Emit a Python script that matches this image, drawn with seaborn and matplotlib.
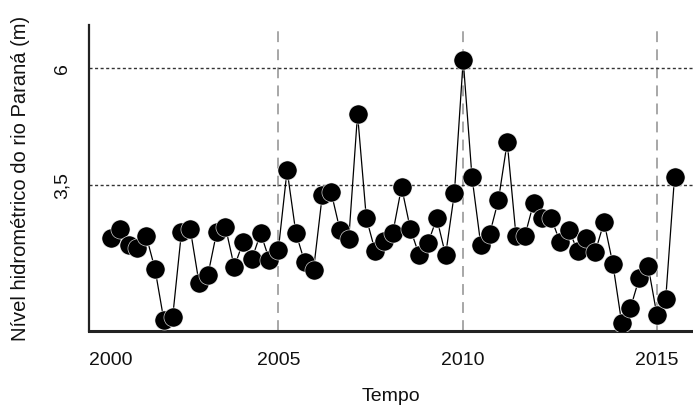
import matplotlib
matplotlib.use("Agg")
import matplotlib.pyplot as plt
import seaborn as sns
import numpy as np
import pandas as pd

# Quarterly river level readings (m)
nivel = [2.37, 2.56, 2.22, 2.15, 2.41, 1.70, 0.61, 0.67, 2.49, 2.56,
         1.40, 1.57, 2.49, 2.60, 1.75, 2.28, 1.92, 2.47, 1.89, 2.11,
         3.82, 2.47, 1.85, 1.68, 3.29, 3.35, 2.54, 2.34, 5.02, 2.79,
         2.09, 2.30, 2.47, 3.46, 2.56, 2.00, 2.26, 2.79, 2.00, 3.33,
         6.18, 3.67, 2.22, 2.45, 3.18, 4.42, 2.41, 2.41, 3.12, 2.79,
         2.79, 2.28, 2.54, 2.09, 2.37, 2.07, 2.71, 1.81, 0.55, 0.87,
         1.51, 1.77, 0.72, 1.06, 3.67]
periodo = list(range(len(nivel)))

# x ticks (position in quarter index) and their year labels
tick_pos = [0, 19, 40, 62]
tick_labels = ["2000", "2005", "2010", "2015"]
vline_pos = [19, 40, 62]

# y ticks / reference levels
y_ticks = [3.5, 6]
y_tick_labels = ["3,5", "6"]

df = pd.DataFrame({"periodo": periodo, "nivel": nivel})

sns.set_style("white")
plt.rcParams["font.family"] = ["Liberation Sans", "DejaVu Sans"]
plt.rcParams["text.color"] = "#111111"
plt.rcParams["axes.labelcolor"] = "#111111"
plt.rcParams["xtick.color"] = "#111111"
plt.rcParams["ytick.color"] = "#111111"

fig = plt.figure(figsize=(6.93, 4.05), dpi=100)
ax = fig.add_axes([89 / 693, 74 / 405, 604 / 693, 306 / 405])

for v in vline_pos:
    ax.axvline(v, color="#a0a0a0", lw=1.3, ls=(0, (6, 4)), ymax=0.99, zorder=1)
for h in y_ticks:
    ax.axhline(h, color="#333333", lw=1.0, ls=(0, (2.2, 1.8)), zorder=1)

sns.lineplot(data=df, x="periodo", y="nivel", color="black", lw=0.9,
             ax=ax, zorder=2)
sns.scatterplot(data=df, x="periodo", y="nivel", color="black", s=190,
                edgecolor="white", linewidth=0.4, ax=ax, zorder=3)

ax.set_xlim(-2.5, 66.1)
ax.set_ylim(0.375, 6.93)

ax.set_xticks(tick_pos)
ax.set_xticklabels(tick_labels, fontsize=14)
ax.set_yticks(y_ticks)
ax.set_yticklabels(y_tick_labels, fontsize=14, rotation=90, va="center")

ax.tick_params(axis="x", direction="out", length=9, width=1.0,
               color="#444444", labelcolor="#111111", pad=6)
ax.tick_params(axis="y", direction="inout", length=10, width=1.0,
               color="#444444", labelcolor="#111111", pad=8)

ax.set_xlabel("Tempo", fontsize=14, labelpad=14)
ax.set_ylabel("Nível hidrométrico do rio Paraná (m)", fontsize=14.5, labelpad=17)

for s in ["top", "right"]:
    ax.spines[s].set_visible(False)
ax.spines["left"].set_color("#222222")
ax.spines["left"].set_linewidth(1.6)
ax.spines["bottom"].set_color("#222222")
ax.spines["bottom"].set_linewidth(2.2)

fig.savefig("out.png", dpi=100)
